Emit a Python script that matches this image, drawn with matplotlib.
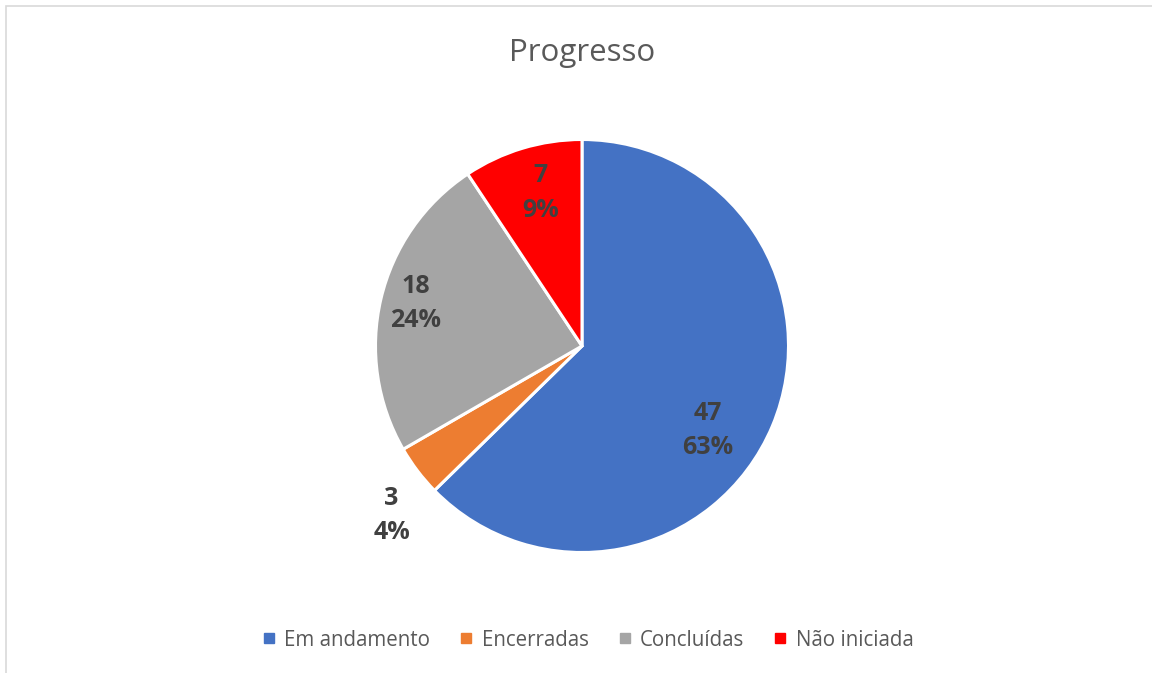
import matplotlib
matplotlib.use("Agg")
import matplotlib.pyplot as plt
from matplotlib.patches import Rectangle
from matplotlib.lines import Line2D

categories = ["Em andamento", "Encerradas", "Concluídas", "Não iniciada"]
values = [47, 3, 18, 7]
percent_labels = ["63%", "4%", "24%", "9%"]
colors = ["#4472C4", "#ED7D31", "#A5A5A5", "#FF0000"]
title = "Progresso"

# label anchor positions in pie-radius units (relative to centre)
label_pos = [(0.607, -0.41), (-0.922, -0.82), (-0.806, 0.205), (-0.199, 0.74)]

plt.rcParams['font.family'] = ['Open Sans', 'DejaVu Sans']

W, H = 1152, 673
fig = plt.figure(figsize=(W / 100, H / 100), dpi=100)
fig.patch.set_facecolor("white")

# chart border (top and left visible; extends past right/bottom)
fig.add_artist(Rectangle((6 / W, -0.05), 1.2, (H - 6) / H + 0.05,
                         transform=fig.transFigure, fill=False,
                         edgecolor="#D9D9D9", linewidth=1.2))

cx, cy, r = 582, H - 346, 206.5
ax = fig.add_axes([(cx - r) / W, (cy - r) / H, 2 * r / W, 2 * r / H])
wedges, _ = ax.pie(values, colors=colors, startangle=90, counterclock=False,
                   radius=1.0,
                   wedgeprops=dict(edgecolor="white", linewidth=2.2))
ax.set_xlim(-1, 1)
ax.set_ylim(-1, 1)
ax.set_aspect("equal")
ax.axis("off")

for v, p, (lx, ly) in zip(values, percent_labels, label_pos):
    ax.text(lx, ly, f"{v}\n{p}", ha="center", va="center", fontsize=18,
            fontweight="bold", color="#404040", linespacing=1.5,
            clip_on=False)

fig.text(cx / W, 1 - 53 / H, title, ha="center", va="center",
         fontsize=22.5, color="#595959")

handles = [Line2D([0], [0], marker="s", linestyle="none", markersize=6.5,
                  markerfacecolor=c, markeredgecolor=c) for c in colors]
fig.legend(handles, categories, loc="center", bbox_to_anchor=(588 / W, 1 - 640 / H),
           ncol=4, frameon=False, fontsize=14.8, labelcolor="#595959",
           handlelength=0.6, handletextpad=0.45, columnspacing=1.45)

fig.savefig("out.png", dpi=100, facecolor="white")
